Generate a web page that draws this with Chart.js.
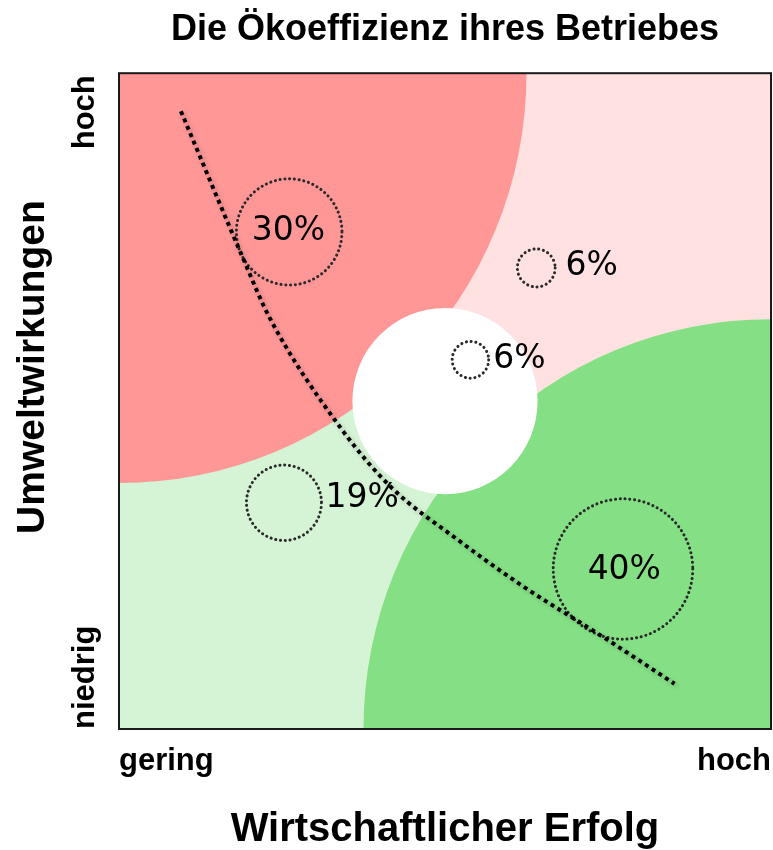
<!DOCTYPE html>
<html>
<head>
<meta charset="utf-8">
<script src="https://cdn.jsdelivr.net/npm/chart.js@4.4.0/dist/chart.umd.min.js"></script>
<style>
html, body { margin: 0; padding: 0; background: #fff; }
</style>
</head>
<body>
<canvas id="chart" width="773" height="850"></canvas>
<script>
// Achsen
var xTickValues = [0, 100];
var xTickLabels = ['gering', 'hoch'];
var yTickValues = [0, 100];
var yTickLabels = ['niedrig', 'hoch'];

// Zonen: Mittelpunkt und Radius in Achseneinheiten
var zoneX = [0, 100, 50];
var zoneY = [100, 0, 50];
var zoneR = [62.5, 62.5, 14.2];

// Anteile der Betriebe
var shareLabels = ['30%', '6%', '6%', '19%', '40%'];
var shareX = [26.1, 64.0, 53.9, 25.3, 77.3];
var shareY = [75.8, 70.3, 56.3, 34.5, 24.4];
var shareR = [8.1, 2.9, 2.8, 5.75, 10.7];
var shareTextX = [26.0, 72.5, 61.4, 37.3, 77.5];
var shareTextY = [75.8, 70.6, 56.3, 35.2, 24.2];

// Kurve
var curveX = [9.5, 19.1, 23.0, 34.0, 41.7, 51.9, 61.6, 74.3, 85.2];
var curveY = [94.2, 71.6, 62.9, 45.9, 36.9, 28.9, 22.0, 14.0, 6.9];

var zoneColors = ['#ff9797', '#85e085', '#ffffff'];
var boldFont = 'bold 31px "Liberation Sans", Arial, sans-serif';

function ellipseAt(ctx, xs, ys, cx, cy, r) {
    var px = xs.getPixelForValue(cx);
    var py = ys.getPixelForValue(cy);
    var rx = Math.abs(xs.getPixelForValue(r) - xs.getPixelForValue(0));
    var ry = Math.abs(ys.getPixelForValue(r) - ys.getPixelForValue(0));
    ctx.beginPath();
    ctx.ellipse(px, py, rx, ry, 0, 0, Math.PI * 2);
}

var zonePlugin = {
    id: 'zonen',
    beforeDatasetsDraw: function(chart) {
        var ctx = chart.ctx, a = chart.chartArea;
        var xs = chart.scales.x, ys = chart.scales.y;
        ctx.save();
        ctx.beginPath();
        ctx.rect(a.left, a.top, a.right - a.left, a.bottom - a.top);
        ctx.clip();
        ctx.fillStyle = '#d5f3d5';
        ctx.fillRect(a.left, a.top, a.right - a.left, a.bottom - a.top);
        ctx.fillStyle = '#ffe1e1';
        ctx.beginPath();
        ctx.moveTo(xs.getPixelForValue(0), ys.getPixelForValue(100));
        ctx.lineTo(xs.getPixelForValue(100), ys.getPixelForValue(100));
        ctx.lineTo(xs.getPixelForValue(100), ys.getPixelForValue(0));
        ctx.closePath();
        ctx.fill();
        for (var i = 0; i < zoneX.length; i++) {
            ctx.fillStyle = zoneColors[i];
            ellipseAt(ctx, xs, ys, zoneX[i], zoneY[i], zoneR[i]);
            ctx.fill();
        }
        // gepunktete Kreise
        ctx.strokeStyle = '#2a2a2a';
        ctx.lineWidth = 3;
        ctx.lineCap = 'round';
        ctx.setLineDash([0.1, 4.7]);
        for (var j = 0; j < shareX.length; j++) {
            ellipseAt(ctx, xs, ys, shareX[j], shareY[j], shareR[j]);
            ctx.stroke();
        }
        ctx.setLineDash([]);
        ctx.fillStyle = '#000';
        ctx.font = '33px "DejaVu Sans", Verdana, sans-serif';
        ctx.textAlign = 'center';
        ctx.textBaseline = 'middle';
        for (var k = 0; k < shareLabels.length; k++) {
            ctx.fillText(shareLabels[k], xs.getPixelForValue(shareTextX[k]), ys.getPixelForValue(shareTextY[k]));
        }
        ctx.restore();
    },
    beforeDatasetDraw: function(chart) {
        var ctx = chart.ctx;
        ctx.save();
        ctx.shadowColor = 'rgba(0,0,0,0.22)';
        ctx.shadowBlur = 4;
        ctx.shadowOffsetX = 2;
        ctx.shadowOffsetY = 2;
    },
    afterDatasetDraw: function(chart) {
        chart.ctx.restore();
    },
    afterDraw: function(chart) {
        var ctx = chart.ctx, a = chart.chartArea, ys = chart.scales.y;
        ctx.save();
        ctx.strokeStyle = '#1a1a1a';
        ctx.lineWidth = 2;
        ctx.strokeRect(a.left, a.top, a.right - a.left, a.bottom - a.top);

        // y-Achse: Beschriftung senkrecht
        ctx.fillStyle = '#000';
        ctx.textBaseline = 'alphabetic';
        ctx.font = boldFont;
        for (var i = 0; i < yTickValues.length; i++) {
            var py = ys.getPixelForValue(yTickValues[i]);
            ctx.save();
            ctx.translate(a.left - 25, i === 0 ? py : py + 2);
            ctx.rotate(-Math.PI / 2);
            ctx.textAlign = i === 0 ? 'left' : 'right';
            ctx.fillText(yTickLabels[i], 0, 0);
            ctx.restore();
        }
        ctx.font = 'bold 39px "Liberation Sans", Arial, sans-serif';
        ctx.translate(a.left - 75, (a.top + a.bottom) / 2 - 34);
        ctx.rotate(-Math.PI / 2);
        ctx.textAlign = 'center';
        ctx.fillText('Umweltwirkungen', 0, 0);
        ctx.restore();
    }
};

var ctx = document.getElementById('chart').getContext('2d');
var chart = new Chart(ctx, {
    type: 'scatter',
    data: {
        datasets: [{
            label: 'Kurve',
            data: curveX.map(function(x, i) { return {x: x, y: curveY[i]}; }),
            showLine: true,
            borderColor: '#000',
            borderWidth: 4,
            borderDash: [4, 4],
            pointRadius: 0,
            cubicInterpolationMode: 'monotone'
        }]
    },
    options: {
        responsive: false,
        animation: false,
        layout: { padding: { left: 0, right: 2, top: 0, bottom: 0 } },
        plugins: {
            legend: { display: false },
            tooltip: { enabled: false },
            title: {
                display: true,
                text: 'Die Ökoeffizienz ihres Betriebes',
                fullSize: false,
                color: '#000',
                font: { family: '"Liberation Sans", Arial, sans-serif', size: 36, weight: 'bold', lineHeight: 1.2 },
                padding: { top: 8, bottom: 22 }
            }
        },
        scales: {
            x: {
                type: 'linear', min: 0, max: 100,
                grid: { display: false, drawTicks: false },
                border: { display: false },
                afterBuildTicks: function(s) { s.ticks = xTickValues.map(function(v) { return {value: v}; }); },
                afterFit: function(s) { s.height = 121; s.paddingLeft = 0; s.paddingRight = 0; },
                ticks: {
                    autoSkip: false, maxRotation: 0, align: 'inner', padding: 14,
                    color: '#000',
                    font: { family: '"Liberation Sans", Arial, sans-serif', size: 31, weight: 'bold' },
                    callback: function(v, i) { return xTickLabels[i]; }
                },
                title: {
                    display: true,
                    text: 'Wirtschaftlicher Erfolg',
                    color: '#000',
                    font: { family: '"Liberation Sans", Arial, sans-serif', size: 40, weight: 'bold', lineHeight: 1 },
                    padding: { top: 0, bottom: 0 }
                }
            },
            y: {
                type: 'linear', min: 0, max: 100,
                grid: { display: false, drawTicks: false },
                border: { display: false },
                ticks: { display: false },
                afterFit: function(s) { s.width = 119; }
            }
        }
    },
    plugins: [zonePlugin]
});
</script>
</body>
</html>
